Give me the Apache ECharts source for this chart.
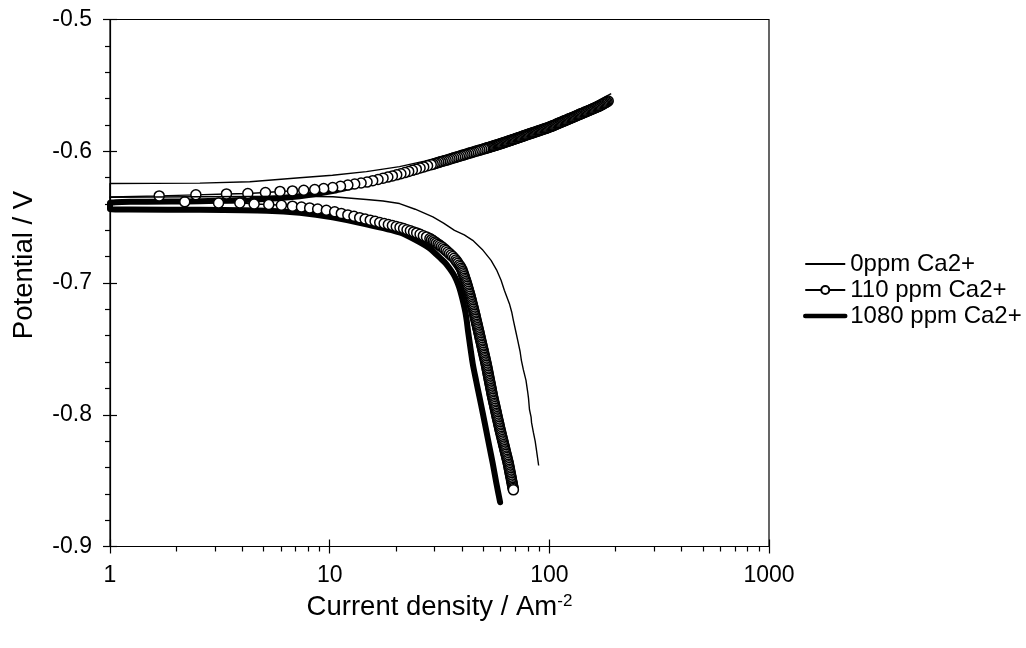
<!DOCTYPE html>
<html>
<head>
<meta charset="utf-8">
<script src="https://cdn.jsdelivr.net/npm/echarts@6/dist/echarts.min.js"></script>
<style>
  html, body { margin: 0; padding: 0; background: #fff; }
  #chart { width: 1026px; height: 648px; }
</style>
</head>
<body>
<div id="chart"></div>
<script>
// Polarisation curves of steel in brine with different Ca2+ contents.
// Each curve = cathodic branch + anodic branch; current density in A m^-2 (log axis), potential in V.

const seriesNames = ['0ppm Ca2+', '110 ppm Ca2+', '1080 ppm Ca2+'];

const xTickValues = [1, 10, 100, 1000];
const xTickLabels = ['1', '10', '100', '1000'];
const xMinorTickValues = [2, 3, 4, 5, 6, 7, 8, 9, 20, 30, 40, 50, 60, 70, 80, 90, 200, 300, 400, 500, 600, 700, 800, 900];
const yTickValues = [-0.9, -0.8, -0.7, -0.6, -0.5];
const yTickLabels = ['-0.9', '-0.8', '-0.7', '-0.6', '-0.5'];

// ---- 0 ppm Ca2+ ----
const cath0I = [1, 2.56, 4.3, 7.31, 10.35, 14.7, 17.5, 20.8, 24.5, 29.5, 33.0, 37.0, 41.0, 44.8, 49.5, 54.3, 57.5, 60.3, 62.4, 65.8, 67.4, 68.6, 70.4, 71.8, 73.6, 74.6, 76.2, 78.3, 79.1, 79.6, 80.4, 81.2, 82.6, 83.0, 84.6, 86.2, 87.0, 89.4];
const cath0V = [-0.6349, -0.6345, -0.6343, -0.6341, -0.6345, -0.6366, -0.6378, -0.6397, -0.6440, -0.6498, -0.6545, -0.6600, -0.6635, -0.6676, -0.6745, -0.6828, -0.6900, -0.6979, -0.7055, -0.7157, -0.7220, -0.7283, -0.7370, -0.7435, -0.7520, -0.7587, -0.7660, -0.7739, -0.7790, -0.7820, -0.7876, -0.7960, -0.8018, -0.8060, -0.8134, -0.8200, -0.8246, -0.8385];
const anod0I = [1, 2.565, 4.33, 7.31, 10.3, 14.7, 20.8, 27, 35.1, 46, 59.3, 78, 100, 118, 136.9, 160, 191.3];
const anod0V = [-0.6245, -0.6242, -0.6231, -0.6201, -0.6182, -0.6155, -0.6117, -0.6075, -0.6026, -0.5970, -0.5912, -0.5850, -0.5783, -0.5737, -0.5688, -0.5630, -0.5562];

// ---- 110 ppm Ca2+ (measured points shown as open circles) ----
const cath110I = [1, 2.19, 3.12, 3.90, 4.53, 5.28, 6.03, 6.77, 7.44, 8.11, 8.82, 9.66, 10.54,
  11.3, 12.1, 12.9, 13.7, 14.5, 15.3, 16.1, 16.9, 17.7, 18.5, 19.3, 20.1, 20.9, 21.7, 22.5, 23.3, 24.1, 24.9,
  25.8, 26.7, 27.6, 28.6, 29.1, 29.6, 30.1, 30.6, 31.15, 31.7, 32.25, 32.8, 33.35, 33.9, 34.5, 35.1, 35.7, 36.3, 36.9,
  37.50, 37.93, 38.37, 38.84, 39.31, 39.67, 40.03, 40.26, 40.49, 40.72, 40.95, 41.19, 41.43, 41.67, 41.91, 42.12,
  42.33, 42.54, 42.75, 42.96, 43.17, 43.38, 43.59, 43.79, 43.99, 44.18, 44.37, 44.57, 44.76, 44.95, 45.14, 45.34,
  45.53, 45.72, 45.91, 46.10, 46.28, 46.48, 46.67, 46.86, 47.04, 47.23, 47.42, 47.62, 47.81, 48.00, 48.19, 48.38,
  48.57, 48.77, 48.96, 49.16, 49.35, 49.55, 49.75, 49.95, 50.15, 50.35, 50.54, 50.75, 50.95, 51.15, 51.35, 51.54,
  51.73, 51.91, 52.09, 52.27, 52.45, 52.63, 52.81, 52.99, 53.16, 53.35, 53.53, 53.72, 53.90, 54.08, 54.26, 54.45,
  54.63, 54.82, 55.00, 55.20, 55.39, 55.61, 55.83, 56.05, 56.27, 56.49, 56.70, 56.93, 57.15, 57.37, 57.59, 57.81,
  58.03, 58.26, 58.49, 58.72, 58.95, 59.18, 59.40, 59.65, 59.90, 60.15, 60.40, 60.66, 60.91, 61.17, 61.43, 61.69,
  61.94, 62.21, 62.48, 62.74, 63.00, 63.27, 63.53, 63.81, 64.08, 64.36, 64.63, 64.89, 65.15, 65.37, 65.59, 65.81,
  66.03, 66.25, 66.47, 66.70, 66.92, 67.14, 67.35, 67.58, 67.80, 68.03, 68.25, 68.43, 68.61];
const cath110V = [-0.6385, -0.6384, -0.6392, -0.6392, -0.6400, -0.6404, -0.6410, -0.6417, -0.6423, -0.6430, -0.6438, -0.6448, -0.6460,
  -0.6472, -0.6483, -0.6494, -0.6504, -0.6514, -0.6523, -0.6532, -0.6541, -0.6549, -0.6556, -0.6564, -0.6571, -0.6578, -0.6587, -0.6596, -0.6604, -0.6612, -0.6620,
  -0.6630, -0.6641, -0.6650, -0.6662, -0.6671, -0.6680, -0.6688, -0.6696, -0.6705, -0.6714, -0.6723, -0.6733, -0.6743, -0.6754, -0.6765, -0.6777, -0.6788, -0.6799, -0.6812,
  -0.6826, -0.6838, -0.6850, -0.6863, -0.6875, -0.6888, -0.6900, -0.6913, -0.6925, -0.6938, -0.6950, -0.6963, -0.6975, -0.6988, -0.7000, -0.7013,
  -0.7025, -0.7038, -0.7050, -0.7063, -0.7075, -0.7088, -0.7100, -0.7113, -0.7125, -0.7138, -0.7150, -0.7163, -0.7175, -0.7188, -0.7200, -0.7213,
  -0.7225, -0.7238, -0.7250, -0.7263, -0.7275, -0.7288, -0.7300, -0.7313, -0.7325, -0.7338, -0.7350, -0.7363, -0.7375, -0.7388, -0.7400, -0.7413,
  -0.7425, -0.7438, -0.7450, -0.7463, -0.7475, -0.7488, -0.7500, -0.7513, -0.7525, -0.7538, -0.7550, -0.7563, -0.7575, -0.7588, -0.7600, -0.7613,
  -0.7625, -0.7638, -0.7650, -0.7663, -0.7675, -0.7688, -0.7700, -0.7713, -0.7725, -0.7738, -0.7750, -0.7763, -0.7775, -0.7788, -0.7800, -0.7813,
  -0.7825, -0.7838, -0.7850, -0.7863, -0.7875, -0.7888, -0.7900, -0.7913, -0.7925, -0.7938, -0.7950, -0.7963, -0.7975, -0.7988, -0.8000, -0.8013,
  -0.8025, -0.8038, -0.8050, -0.8063, -0.8075, -0.8088, -0.8100, -0.8113, -0.8125, -0.8138, -0.8150, -0.8163, -0.8175, -0.8188, -0.8200, -0.8213,
  -0.8225, -0.8238, -0.8250, -0.8263, -0.8275, -0.8288, -0.8300, -0.8313, -0.8325, -0.8338, -0.8350, -0.8363, -0.8375, -0.8388, -0.8400, -0.8413,
  -0.8425, -0.8438, -0.8450, -0.8463, -0.8475, -0.8488, -0.8500, -0.8513, -0.8525, -0.8538, -0.8550, -0.8560, -0.8570];
const anod110I = [1, 1.675, 2.46, 3.39, 4.24, 5.10, 5.94, 6.77, 7.62, 8.55, 9.39, 10.32,
  11.2, 12.1, 13.0, 13.9, 14.8, 15.7, 16.6, 17.5, 18.4, 19.3, 20.2, 21.1, 22.0,
  22.9, 23.8, 24.8, 25.8, 26.8, 27.9,
  29.0, 29.6, 30.2, 30.8, 31.4, 32.0, 32.6, 33.25, 33.9, 34.6, 35.3, 36.0, 36.7, 37.45, 38.2, 38.95, 39.7, 40.5,
  41.3, 42.1, 42.9, 43.75, 44.6, 45.5, 46.4, 47.35, 48.3, 49.25, 50.2,
  50.85, 51.5, 52.15, 52.8, 53.45, 54.1, 54.75, 55.4, 56.1, 56.8, 57.5, 58.2, 58.95, 59.7, 60.45, 61.2, 61.95,
  62.7, 63.5, 64.3, 65.1, 65.9, 66.7, 67.5, 68.35, 69.2, 70.05, 70.9, 71.8, 72.7, 73.6, 74.5, 75.45, 76.4,
  77.35, 78.3, 79.25, 80.2, 81.2, 82.2, 83.25, 84.3, 85.35, 86.4, 87.5, 88.6, 89.7, 90.8, 91.9, 93.0, 94.2,
  95.4, 96.55, 97.7, 98.95, 100.2, 101.45, 102.7, 103.95, 105.2, 106.55, 107.9, 109.25, 110.6, 111.95, 113.3,
  114.75, 116.2, 117.65, 119.1, 120.55, 122.0, 123.55, 125.1, 126.65, 128.2, 129.8, 131.4, 133.05, 134.7,
  136.4, 138.1, 139.8, 141.5, 143.3, 145.1, 146.9, 148.7, 150.55, 152.4, 154.3, 156.2, 158.15, 160.1, 162.1,
  164.1, 166.15, 168.2, 170.3, 172.4, 174.55, 176.7, 178.9, 181.1, 183.25, 185.4];
const anod110V = [-0.6347, -0.6339, -0.6331, -0.6324, -0.6321, -0.6313, -0.6305, -0.6301, -0.6296, -0.6290, -0.6283, -0.6275,
  -0.6266, -0.6257, -0.6249, -0.6241, -0.6234, -0.6223, -0.6214, -0.6204, -0.6196, -0.6187, -0.6179, -0.6171, -0.6162,
  -0.6153, -0.6145, -0.6136, -0.6127, -0.6119, -0.6110,
  -0.6102, -0.6098, -0.6093, -0.6089, -0.6084, -0.6080, -0.6076, -0.6072, -0.6068, -0.6064, -0.6059, -0.6055, -0.6050, -0.6046, -0.6042, -0.6038, -0.6033, -0.6029,
  -0.6025, -0.6021, -0.6016, -0.6012, -0.6008, -0.6004, -0.5999, -0.5995, -0.5991, -0.5987, -0.5982,
  -0.5980, -0.5977, -0.5974, -0.5971, -0.5969, -0.5966, -0.5964, -0.5961, -0.5958, -0.5955, -0.5953, -0.5950, -0.5947, -0.5944, -0.5941, -0.5938, -0.5935,
  -0.5932, -0.5929, -0.5926, -0.5923, -0.5920, -0.5917, -0.5914, -0.5911, -0.5908, -0.5905, -0.5902, -0.5899, -0.5896, -0.5893, -0.5890, -0.5887, -0.5883,
  -0.5880, -0.5877, -0.5874, -0.5871, -0.5868, -0.5865, -0.5862, -0.5859, -0.5856, -0.5853, -0.5850, -0.5847, -0.5844, -0.5841, -0.5838, -0.5835, -0.5832,
  -0.5829, -0.5826, -0.5823, -0.5820, -0.5816, -0.5813, -0.5809, -0.5806, -0.5802, -0.5798, -0.5794, -0.5790, -0.5786, -0.5783, -0.5779,
  -0.5775, -0.5771, -0.5768, -0.5764, -0.5760, -0.5756, -0.5753, -0.5749, -0.5745, -0.5741, -0.5738, -0.5734, -0.5730, -0.5726,
  -0.5722, -0.5718, -0.5715, -0.5711, -0.5707, -0.5703, -0.5700, -0.5696, -0.5692, -0.5688, -0.5685, -0.5681, -0.5677, -0.5673, -0.5670,
  -0.5666, -0.5662, -0.5658, -0.5654, -0.5649, -0.5644, -0.5639, -0.5634, -0.5629, -0.5624, -0.5619];

// ---- 1080 ppm Ca2+ ----
const cath1080I = [1, 2.565, 5.17, 7.31, 10.3, 14.7, 20.8, 24.3, 28.5, 32.3, 33.7, 35.1, 36.5, 37.8, 38.9, 39.8, 40.7, 41.5, 42.1, 42.6, 44.8, 46.4, 48.1, 49.8, 51.6, 53.4, 55.3, 57.4, 59.7];
const cath1080V = [-0.6440, -0.6444, -0.6451, -0.6467, -0.6501, -0.6554, -0.6615, -0.6668, -0.6736, -0.6820, -0.6850, -0.6888, -0.6930, -0.6979, -0.7035, -0.7093, -0.7158, -0.7223, -0.7290, -0.7359, -0.7612, -0.7740, -0.7866, -0.7990, -0.8119, -0.8245, -0.8372, -0.8520, -0.8664];
const anod1080I = [1, 2.565, 4.33, 7.31, 10.3, 14.7, 20.8, 35.1, 59.3, 100, 136.9, 185.4];
const anod1080V = [-0.6391, -0.6379, -0.6368, -0.6341, -0.6303, -0.6242, -0.6185, -0.6071, -0.5957, -0.5824, -0.5729, -0.5623];

const FONT = "'Liberation Sans', Arial, Helvetica, sans-serif";

function pairs(I, V) {
  const n = Math.min(I.length, V.length);
  const out = [];
  for (let i = 0; i < n; i++) out.push([I[i], V[i]]);
  return out;
}

// One polyline per curve: anodic branch traced from its far end back to the
// left axis, then the cathodic branch out to its far end.
function curve(anI, anV, caI, caV) {
  return pairs(anI, anV).reverse().concat(pairs(caI, caV)).map(function (p) {
    return p[0] <= 1 ? { value: p, symbol: 'none' } : p;
  });
}

const data0 = curve(anod0I, anod0V, cath0I, cath0V);
const data110 = curve(anod110I, anod110V, cath110I, cath110V);
const data1080 = curve(anod1080I, anod1080V, cath1080I, cath1080V);

const black = '#000';
const tickLine = { color: black, width: 1.2 };

const chart = echarts.init(document.getElementById('chart'), null, { renderer: 'canvas' });

chart.setOption({
  animation: false,
  backgroundColor: '#fff',
  textStyle: { fontFamily: FONT, color: black },
  grid: {
    left: 110, right: 257, top: 19.5, bottom: 101.5,
    show: true, borderColor: black, borderWidth: 1.2, backgroundColor: 'transparent',
    containLabel: false, outerBoundsMode: 'none'
  },
  legend: {
    orient: 'vertical',
    left: 803, top: 252,
    padding: 0,
    itemWidth: 40, itemHeight: 10, itemGap: 2,
    selectedMode: false,
    textStyle: { fontFamily: FONT, fontSize: 24, color: black, lineHeight: 24 },
    data: [
      { name: seriesNames[0], itemStyle: { opacity: 0 } },
      { name: seriesNames[1] },
      { name: seriesNames[2], itemStyle: { opacity: 0 }, lineStyle: { width: 4.5 } }
    ]
  },
  xAxis: [
    {
      type: 'log', logBase: 10, min: 1, max: 1000, position: 'bottom',
      axisLine: { show: true, lineStyle: tickLine },
      axisTick: { show: true, length: 7, lineStyle: tickLine },
      minorTick: { show: false },
      splitLine: { show: false },
      axisLabel: {
        color: black, fontFamily: FONT, fontSize: 23, margin: 18,
        formatter: function (v) {
          const k = xTickValues.findIndex(function (t) { return Math.abs(t - v) < 1e-6 * t; });
          return k >= 0 ? xTickLabels[k] : '';
        }
      },
      name: '{t|Current density / Am}{s|-2}',
      nameLocation: 'middle', nameGap: 35,
      nameTextStyle: {
        color: black, fontFamily: FONT, fontSize: 27.5,
        rich: {
          t: { fontFamily: FONT, fontSize: 27.5, color: black, lineHeight: 30 },
          s: { fontFamily: FONT, fontSize: 17, color: black, verticalAlign: 'top', lineHeight: 17 }
        }
      }
    },
    {
      // major ticks pointing into the plot
      type: 'log', logBase: 10, min: 1, max: 1000, position: 'bottom',
      axisLine: { show: false },
      axisTick: { show: true, inside: true, length: 7, lineStyle: tickLine },
      axisLabel: { show: false }, splitLine: { show: false }
    },
    {
      // minor decade ticks (2..9 x 10^n), placed on the exponent scale
      type: 'value', min: 0, max: 3, position: 'bottom',
      axisLine: { show: false },
      axisTick: { show: true, length: 5, lineStyle: tickLine, customValues: xMinorTickValues.map(Math.log10) },
      axisLabel: { show: false }, splitLine: { show: false }
    }
  ],
  yAxis: [
    {
      type: 'value', min: -0.9, max: -0.5, interval: 0.1, position: 'left',
      axisLine: { show: true, lineStyle: tickLine },
      axisTick: { show: true, length: 7, lineStyle: tickLine },
      minorTick: { show: true, splitNumber: 5, length: 5, lineStyle: tickLine },
      splitLine: { show: false }, minorSplitLine: { show: false },
      axisLabel: {
        color: black, fontFamily: FONT, fontSize: 23, margin: 18,
        formatter: function (v) {
          const k = yTickValues.findIndex(function (t) { return Math.abs(t - v) < 1e-6; });
          return k >= 0 ? yTickLabels[k] : '';
        }
      },
      name: 'Potential / V',
      nameLocation: 'middle', nameGap: 72,
      nameTextStyle: { color: black, fontFamily: FONT, fontSize: 27.5, padding: [0, 0, 0, 36] }
    },
    {
      type: 'value', min: -0.9, max: -0.5, interval: 0.1, position: 'left',
      axisLine: { show: false },
      axisTick: { show: true, inside: true, length: 7, lineStyle: tickLine },
      axisLabel: { show: false }, splitLine: { show: false }
    }
  ],
  series: [
    {
      name: seriesNames[0], type: 'line', xAxisIndex: 0, yAxisIndex: 0,
      data: data0, symbol: 'none', z: 4, clip: true,
      lineStyle: { color: black, width: 1.4 },
      itemStyle: { color: black },
      emphasis: { disabled: true }
    },
    {
      name: seriesNames[1], type: 'line', xAxisIndex: 0, yAxisIndex: 0,
      data: data110, symbol: 'circle', symbolSize: 10, showAllSymbol: true, z: 3, clip: true,
      lineStyle: { color: black, width: 1.4 },
      itemStyle: { color: '#fff', borderColor: black, borderWidth: 1.5 },
      emphasis: { disabled: true }
    },
    {
      name: seriesNames[2], type: 'line', xAxisIndex: 0, yAxisIndex: 0,
      data: data1080, symbol: 'none', z: 2, clip: true, smooth: 0.2,
      lineStyle: { color: black, width: 6, cap: 'round', join: 'round' },
      itemStyle: { color: black },
      emphasis: { disabled: true }
    }
  ]
});
</script>
</body>
</html>
